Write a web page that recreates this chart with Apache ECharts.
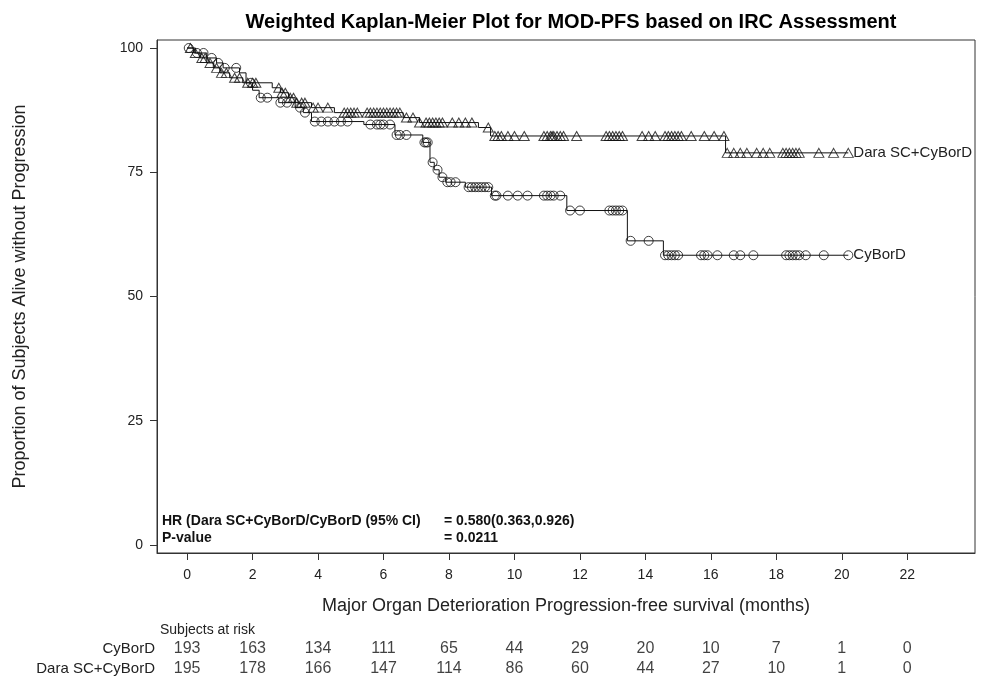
<!DOCTYPE html>
<html><head><meta charset="utf-8">
<script src="https://cdn.jsdelivr.net/npm/echarts@6/dist/echarts.min.js"></script>
<style>html,body{margin:0;padding:0;background:#fff}#c{width:987px;height:683px}</style>
</head><body><div id="c"></div>
<script>
// ---- data ----
const xTicks = [0,2,4,6,8,10,12,14,16,18,20,22];
const yTicks = [0,25,50,75,100];

// Kaplan-Meier steps: [time (months), survival % after event]
const daraSteps = [[0,100],[0.2,99],[0.4,98],[0.6,97],[0.8,96],[1.0,95],[1.3,94],[1.7,93],[2.6,92],[2.85,91],[3.1,90],[3.3,89],[3.8,88],[4.5,87],[6.6,86],[7.1,85],[8.9,84],[9.27,82.3],[16.45,78.9]];
const daraEnd = 20.2;
const daraCensor = [0.1,0.25,0.45,0.55,0.7,0.9,1.05,1.2,1.45,1.6,1.85,2.0,2.1,2.8,2.9,3.0,3.15,3.25,3.35,3.5,3.6,3.85,4.0,4.3,4.8,4.9,5.0,5.1,5.2,5.5,5.6,5.7,5.8,5.9,6.0,6.1,6.2,6.3,6.4,6.5,6.7,6.9,7.1,7.3,7.4,7.5,7.6,7.7,7.8,8.1,8.3,8.5,8.7,9.2,9.4,9.5,9.6,9.8,10.0,10.3,10.9,11.0,11.1,11.15,11.2,11.3,11.4,11.5,11.9,12.8,12.9,13.0,13.1,13.2,13.3,13.9,14.1,14.3,14.6,14.7,14.8,14.9,15.0,15.1,15.4,15.8,16.1,16.4,16.5,16.7,16.9,17.1,17.4,17.6,17.8,18.2,18.3,18.4,18.5,18.6,18.7,19.3,19.75,20.2];

const cybSteps = [[0,100],[0.25,99],[0.6,98],[0.9,97],[1.1,96],[1.6,95],[1.8,93],[2.0,91.5],[2.2,90],[2.8,89],[3.3,88],[3.55,87],[3.8,85.2],[5.4,84.6],[6.35,82.5],[7.2,81],[7.42,77],[7.55,75.5],[7.7,74],[7.9,73],[8.5,72],[9.3,70.3],[11.6,67.3],[13.45,61.2],[14.55,58.3]];
const cybEnd = 20.2;
const cybCensor = [0.05,0.3,0.5,0.75,0.95,1.15,1.5,1.95,2.25,2.45,2.85,3.05,3.45,3.6,3.9,4.1,4.3,4.5,4.7,4.9,5.6,5.8,5.9,6.0,6.2,6.4,6.5,6.7,7.25,7.3,7.35,7.5,7.65,7.8,7.95,8.05,8.2,8.6,8.7,8.8,8.9,9.0,9.1,9.2,9.4,9.45,9.8,10.1,10.4,10.9,11.0,11.1,11.2,11.4,11.7,12.0,12.9,13.0,13.1,13.2,13.3,13.55,14.1,14.6,14.7,14.8,14.9,15.0,15.7,15.8,15.9,16.2,16.7,16.9,17.3,18.3,18.4,18.5,18.6,18.7,18.9,19.45,20.2];

const riskTimes = [0,2,4,6,8,10,12,14,16,18,20,22];
const riskCyBorD = [193,163,134,111,65,44,29,20,10,7,1,0];
const riskDara = [195,178,166,147,114,86,60,44,27,10,1,0];
const groupNames = ['CyBorD','Dara SC+CyBorD'];

// ---- build ----
function survAt(steps, t){ let s = 100; for (const [ti, si] of steps) if (ti <= t) s = si; return s; }
function lineData(steps, end){ return steps.concat([[end, steps[steps.length-1][1]]]); }
function censorData(steps, times){ return times.map(t => [t, survAt(steps, t)]); }

const FONT = 'Liberation Sans, Arial, sans-serif';
const XMIN = -0.92, XMAX = 24.07, YMIN = -1.61, YMAX = 101.61;

const chart = echarts.init(document.getElementById('c'), null, {renderer:'canvas'});
const hollow = {color:'rgba(0,0,0,0)', borderColor:'#111', borderWidth:1};

chart.setOption({
  animation:false,
  backgroundColor:'#fff',
  textStyle:{fontFamily:FONT},
  title:{text:'Weighted Kaplan-Meier Plot for MOD-PFS based on IRC Assessment', left:566, top:7, textAlign:'center',
    textStyle:{fontFamily:FONT, fontSize:20, fontWeight:'bold', color:'#000'}},
  grid:[
    {left:157, right:12, top:40, bottom:130, show:true, borderColor:'#333', borderWidth:1, containLabel:false},
    {left:157, right:12, top:639, height:40, show:false}
  ],
  xAxis:[
    {type:'value', gridIndex:0, min:XMIN, max:XMAX,
     name:'Major Organ Deterioration Progression-free survival (months)', nameLocation:'middle', nameGap:44,
     nameTextStyle:{fontFamily:FONT, fontSize:18, color:'#222'},
     axisLine:{show:true, onZero:false, lineStyle:{color:'#333'}},
     axisTick:{show:true, length:7, customValues:xTicks, lineStyle:{color:'#333'}},
     axisLabel:{customValues:xTicks, fontFamily:FONT, fontSize:14, color:'#222', margin:15},
     splitLine:{show:false}},
    {type:'value', gridIndex:1, min:XMIN, max:XMAX, show:false}
  ],
  yAxis:[
    {type:'value', gridIndex:0, min:YMIN, max:YMAX,
     name:'Proportion of Subjects Alive without Progression', nameLocation:'middle', nameGap:128,
     nameTextStyle:{fontFamily:FONT, fontSize:18, color:'#222'},
     axisLine:{show:true, onZero:false, lineStyle:{color:'#333'}},
     axisTick:{show:true, length:7, customValues:yTicks, lineStyle:{color:'#333'}},
     axisLabel:{customValues:yTicks, fontFamily:FONT, fontSize:14, color:'#222', margin:14},
     splitLine:{show:false}},
    {type:'category', gridIndex:1, data:groupNames, inverse:true,
     axisLine:{show:false}, axisTick:{show:false},
     axisLabel:{fontFamily:FONT, fontSize:15, color:'#222', margin:2}}
  ],
  series:[
    {name:'Dara SC+CyBorD', type:'line', step:'end', xAxisIndex:0, yAxisIndex:0, data:lineData(daraSteps, daraEnd),
     symbol:'none', lineStyle:{color:'#111', width:1},
     endLabel:{show:true, formatter:'Dara SC+CyBorD', fontFamily:FONT, fontSize:15, color:'#222', distance:5}},
    {name:'Dara censor', type:'scatter', xAxisIndex:0, yAxisIndex:0, data:censorData(daraSteps, daraCensor),
     symbol:'triangle', symbolSize:[10,9], itemStyle:hollow},
    {name:'CyBorD', type:'line', step:'end', xAxisIndex:0, yAxisIndex:0, data:lineData(cybSteps, cybEnd),
     symbol:'none', lineStyle:{color:'#111', width:1},
     endLabel:{show:true, formatter:'CyBorD', fontFamily:FONT, fontSize:15, color:'#222', distance:5}},
    {name:'CyBorD censor', type:'scatter', xAxisIndex:0, yAxisIndex:0, data:censorData(cybSteps, cybCensor),
     symbol:'circle', symbolSize:9, itemStyle:hollow},
    {name:'risk', type:'scatter', xAxisIndex:1, yAxisIndex:1, symbolSize:0,
     data: riskTimes.map((t,i)=>[t, groupNames[0], riskCyBorD[i]]).concat(riskTimes.map((t,i)=>[t, groupNames[1], riskDara[i]])),
     label:{show:true, position:'inside', formatter:p=>String(p.value[2]), fontFamily:FONT, fontSize:16, color:'#111'}}
  ],
  graphic:[
    {type:'text', left:162, top:514, style:{text:'HR (Dara SC+CyBorD/CyBorD (95% CI)', font:'bold 14px '+FONT, fill:'#111'}},
    {type:'text', left:444, top:514, style:{text:'= 0.580(0.363,0.926)', font:'bold 14px '+FONT, fill:'#111'}},
    {type:'text', left:162, top:531, style:{text:'P-value', font:'bold 14px '+FONT, fill:'#111'}},
    {type:'text', left:444, top:531, style:{text:'= 0.0211', font:'bold 14px '+FONT, fill:'#111'}},
    {type:'text', left:160, top:623, style:{text:'Subjects at risk', font:'14px '+FONT, fill:'#222'}}
  ]
});
</script></body></html>
